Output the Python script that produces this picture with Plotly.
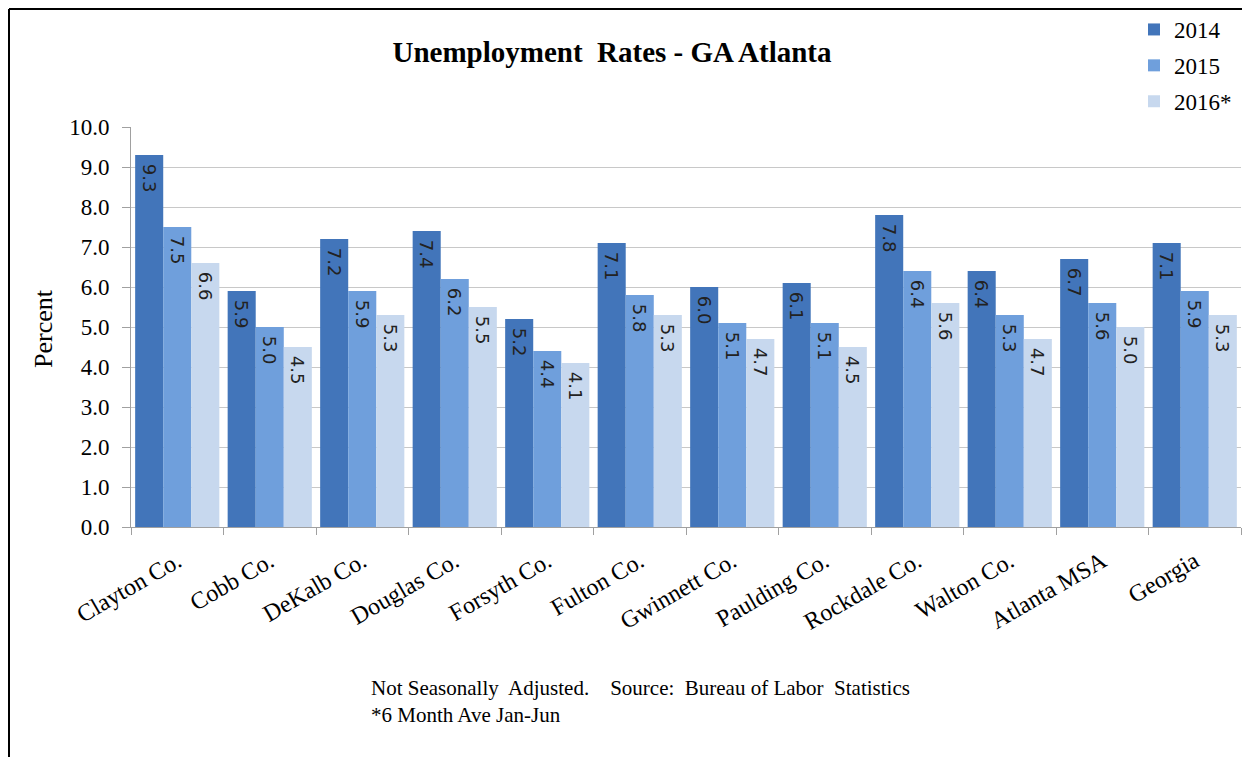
import plotly.graph_objects as go

categories = ["Clayton Co.", "Cobb Co.", "DeKalb Co.", "Douglas Co.", "Forsyth Co.",
              "Fulton Co.", "Gwinnett Co.", "Paulding Co.", "Rockdale Co.", "Walton Co.",
              "Atlanta MSA", "Georgia"]
rate_2014 = [9.3, 5.9, 7.2, 7.4, 5.2, 7.1, 6.0, 6.1, 7.8, 6.4, 6.7, 7.1]
rate_2015 = [7.5, 5.0, 5.9, 6.2, 4.4, 5.8, 5.1, 5.1, 6.4, 5.3, 5.6, 5.9]
rate_2016 = [6.6, 4.5, 5.3, 5.5, 4.1, 5.3, 4.7, 4.5, 5.6, 4.7, 5.0, 5.3]
series_names = ["2014", "2015", "2016*"]
series_colors = ["#4275ba", "#6f9fdc", "#c7d8ee"]
y_ticks = [0, 1, 2, 3, 4, 5, 6, 7, 8, 9, 10]

serif = "Liberation Serif, Times New Roman, serif"
label_font = "DejaVu Sans, Verdana, sans-serif"

# page offset (body margin) -> figure coordinates = screen coordinates - OFF
OFF = 8
W, H = 1250 - OFF, 757 - OFF
L, R, T, B = 131 - OFF, 1241 - OFF, 127 - OFF, 527 - OFF
pw, ph = R - L, B - T

def px(x):  # screen x -> paper
    return (x - OFF - L) / pw

def py(y):  # screen y -> paper
    return (B - (y - OFF)) / ph

fig = go.Figure()
for i, (name, vals, col) in enumerate(zip(series_names, [rate_2014, rate_2015, rate_2016], series_colors)):
    fig.add_trace(go.Bar(
        x=categories, y=vals, name=name, marker=dict(color=col, line=dict(width=0)),
        text=["\u00a0" + f"{v:.1f}" for v in vals], textposition="inside", insidetextanchor="end",
        textangle=90, textfont=dict(family=label_font, size=18, color="#222222"),
        legendgroup=f"g{i}", cliponaxis=False,
    ))

fig.update_layout(
    width=W, height=H,
    paper_bgcolor="white", plot_bgcolor="white",
    margin=dict(l=L, r=W - R, t=T, b=H - B, autoexpand=False),
    barmode="group", bargap=0.09, bargroupgap=0,
    uniformtext=dict(minsize=18, mode="show"),
    title=dict(text="<b>Unemployment&nbsp; Rates - GA Atlanta</b>", x=(612 - OFF)/W, xanchor="center",
               y=1 - (52 - OFF)/H, yanchor="middle", font=dict(family=serif, size=29, color="black")),
    legend=dict(xref="container", yref="container", x=(1134 - OFF)/W, y=1 + 3/H,
                xanchor="left", yanchor="top", font=dict(family=serif, size=23, color="black"),
                traceorder="grouped", tracegroupgap=3, itemwidth=30, bgcolor="rgba(0,0,0,0)"),
    xaxis=dict(showline=True, linecolor="#a0a0a0", linewidth=1, ticks="outside", tickson="boundaries",
               ticklen=7, tickcolor="#a0a0a0", tickangle=-30, ticklabelstandoff=10,
               tickfont=dict(family=serif, size=24, color="black"), showgrid=False),
    yaxis=dict(range=[0, 10], tickvals=y_ticks, tickformat=".1f", showline=True, linecolor="#a0a0a0",
               ticks="outside", ticklen=8, tickcolor="#a0a0a0", showgrid=True, gridcolor="#c8c8c8",
               ticklabelstandoff=8,
               tickfont=dict(family=serif, size=23, color="black"), zeroline=False),
    showlegend=True,
)

fig.add_annotation(xref="paper", yref="paper", x=px(43), y=py(329), text="Percent", textangle=-90,
                   showarrow=False, xanchor="center", yanchor="middle",
                   font=dict(family=serif, size=26, color="black"))
fig.add_annotation(xref="paper", yref="paper", x=px(369), y=py(674), showarrow=False,
                   text="Not Seasonally&nbsp; Adjusted.&nbsp;&nbsp;&nbsp; Source:&nbsp; Bureau of Labor&nbsp; Statistics<br>*6 Month Ave Jan-Jun",
                   align="left", xanchor="left", yanchor="top",
                   font=dict(family=serif, size=21, color="black"))

# chart border (left and top edges), as close to the page edge as the page allows
bx = -L / pw + 1 / pw
by = 1 + (T - 1) / ph
fig.add_shape(type="line", xref="paper", yref="paper", x0=bx, x1=bx, y0=py(760), y1=by,
              line=dict(width=2, color="black"))
fig.add_shape(type="line", xref="paper", yref="paper", x0=bx, x1=px(1250), y0=by, y1=by,
              line=dict(width=2, color="black"))
fig.write_html("out.html")
